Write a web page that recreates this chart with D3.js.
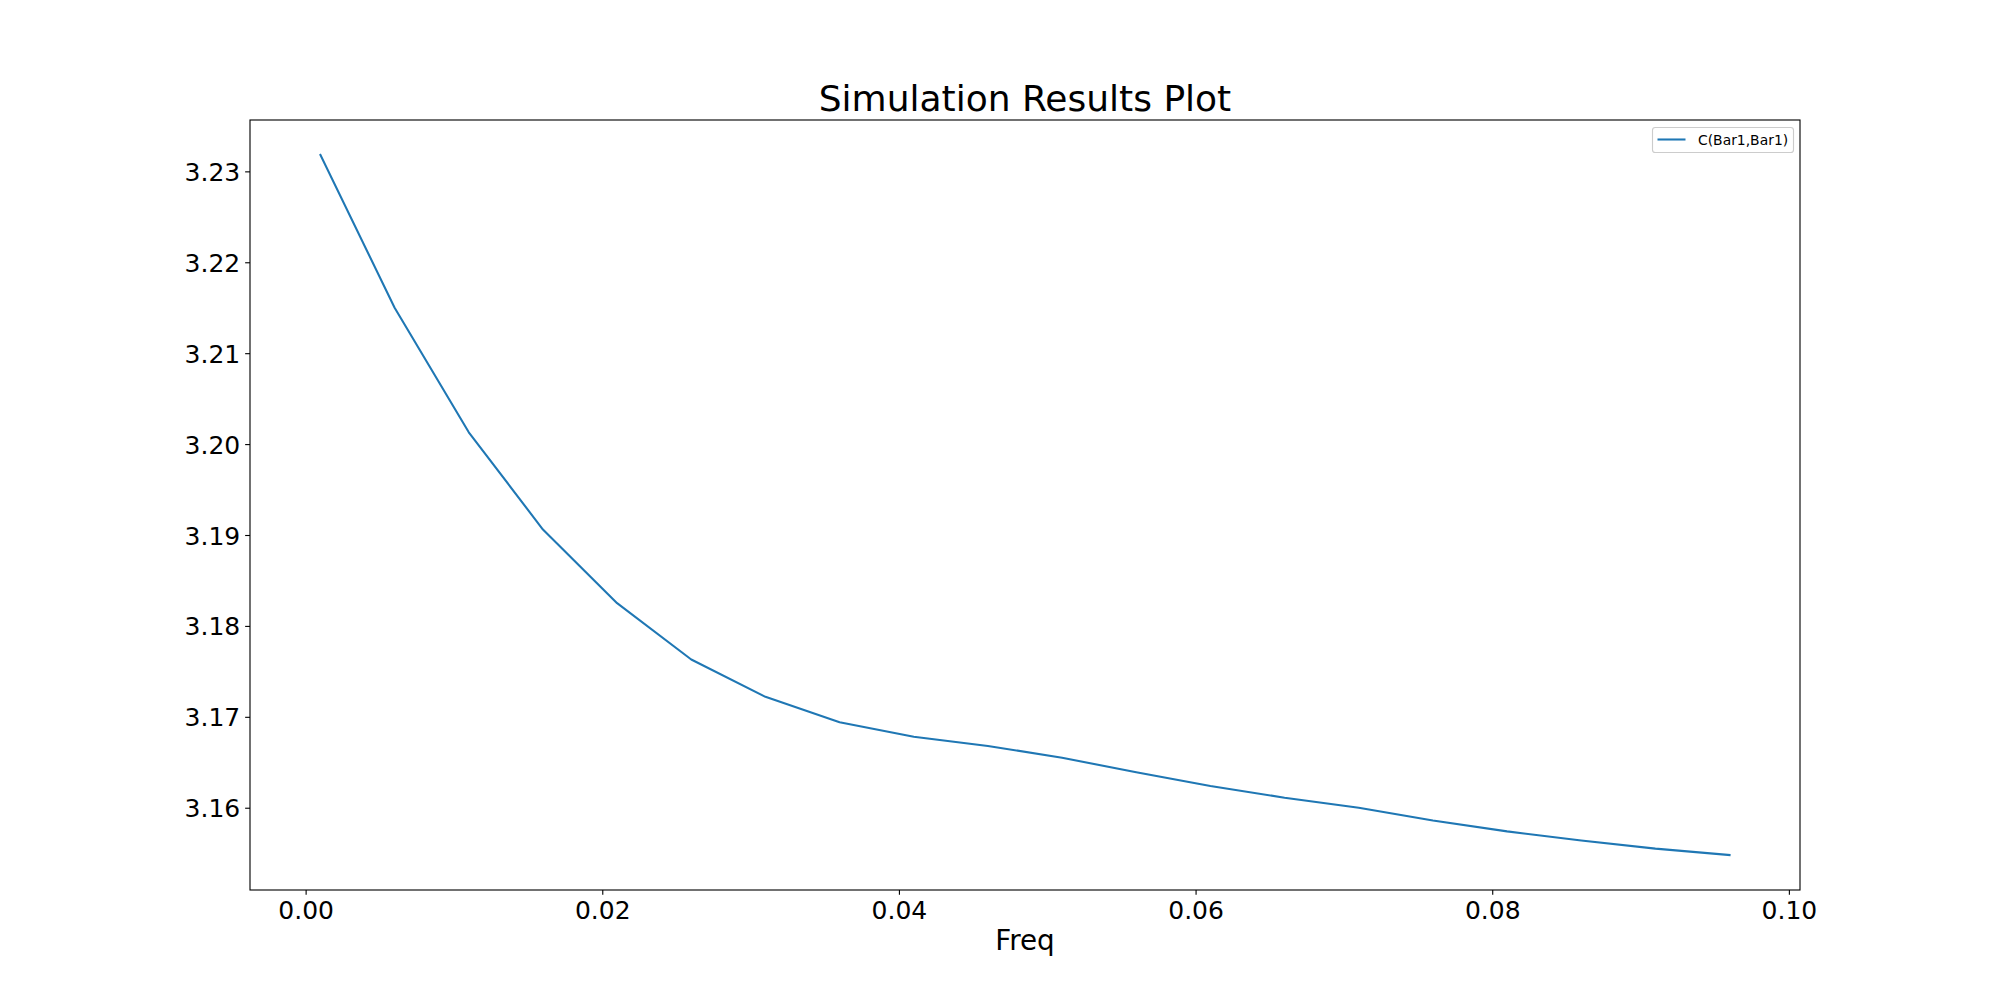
<!DOCTYPE html>
<html>
<head>
<meta charset="utf-8">
<script src="https://cdn.jsdelivr.net/npm/d3@7"></script>
<style>
  html, body { margin: 0; padding: 0; background: #fff; }
  svg { display: block; }
  text { font-family: "DejaVu Sans", sans-serif; fill: #000; }
</style>
</head>
<body>
<svg id="chart" width="2000" height="1000"></svg>
<script>
// ---- data ----
const freq = [0.001, 0.006, 0.011, 0.016, 0.021, 0.026, 0.031, 0.036, 0.041, 0.046,
              0.051, 0.056, 0.061, 0.066, 0.071, 0.076, 0.081, 0.086, 0.091, 0.096];
const cBar1 = [3.2318, 3.2150, 3.2013, 3.1906, 3.1825, 3.1763, 3.1722, 3.1694, 3.1678, 3.1668,
               3.1655, 3.1639, 3.1624, 3.1611, 3.1600, 3.1586, 3.1574, 3.1564, 3.1555, 3.1548];
const xTicks = [0.00, 0.02, 0.04, 0.06, 0.08, 0.10];
const yTicks = [3.16, 3.17, 3.18, 3.19, 3.20, 3.21, 3.22, 3.23];
const seriesName = "C(Bar1,Bar1)";
const titleText = "Simulation Results Plot";
const xLabelText = "Freq";

(function () {
// ---- layout ----
const mLeft = 250, mRight = 1800, mTop = 120, mBottom = 890;
const svg = d3.select("#chart");

function padded(ext) {
  const r = ext[1] - ext[0];
  return [ext[0] - 0.05 * r, ext[1] + 0.05 * r];
}
const x = d3.scaleLinear().domain(padded(d3.extent(freq))).range([mLeft, mRight]);
const y = d3.scaleLinear().domain(padded(d3.extent(cBar1))).range([mBottom, mTop]);

const data = freq.map((f, i) => ({ f, v: cBar1[i] }));

// line
const line = d3.line().x(d => x(d.f)).y(d => y(d.v));
svg.append("path")
  .datum(data)
  .attr("d", line)
  .attr("fill", "none")
  .attr("stroke", "#1f77b4")
  .attr("stroke-width", 2.08)
  .attr("stroke-linejoin", "round")
  .attr("stroke-linecap", "square");

// axes
const xAxis = d3.axisBottom(x).tickValues(xTicks).tickFormat(d3.format(".2f"))
  .tickSize(4.86).tickPadding(4.86);
const yAxis = d3.axisLeft(y).tickValues(yTicks).tickFormat(d3.format(".2f"))
  .tickSize(4.86).tickPadding(4.86);

const gx = svg.append("g").attr("transform", `translate(0,${mBottom})`).call(xAxis);
const gy = svg.append("g").attr("transform", `translate(${mLeft},0)`).call(yAxis);
[gx, gy].forEach(g => {
  g.select(".domain").remove();
  g.selectAll(".tick line").attr("stroke", "#000").attr("stroke-width", 1.11);
  g.selectAll(".tick text").attr("font-size", 25).attr("font-family", "DejaVu Sans").attr("fill", "#000");
});
gx.selectAll(".tick text").attr("dy", null).attr("y", 29);
gy.selectAll(".tick text").attr("dy", null).attr("y", 9);

// spines
svg.append("rect")
  .attr("x", mLeft).attr("y", mTop)
  .attr("width", mRight - mLeft).attr("height", mBottom - mTop)
  .attr("fill", "none").attr("stroke", "#000").attr("stroke-width", 1.11);

// title
svg.append("text")
  .attr("x", (mLeft + mRight) / 2).attr("y", 111)
  .attr("text-anchor", "middle")
  .attr("font-size", 36)
  .text(titleText);

// x label
svg.append("text")
  .attr("x", (mLeft + mRight) / 2).attr("y", 950)
  .attr("text-anchor", "middle")
  .attr("font-size", 27.8)
  .text(xLabelText);

// legend
const lg = svg.append("g");
lg.append("rect")
  .attr("x", 1652.5).attr("y", 127.5)
  .attr("width", 141).attr("height", 25)
  .attr("rx", 2.8).attr("ry", 2.8)
  .attr("fill", "#fff").attr("fill-opacity", 0.8)
  .attr("stroke", "#cccccc").attr("stroke-width", 1.11);
lg.append("line")
  .attr("x1", 1657.5).attr("x2", 1685.5)
  .attr("y1", 139.5).attr("y2", 139.5)
  .attr("stroke", "#1f77b4").attr("stroke-width", 2.08);
lg.append("text")
  .attr("x", 1698).attr("y", 144.5)
  .attr("font-size", 13.9)
  .text(seriesName);
})();
</script>
</body>
</html>
